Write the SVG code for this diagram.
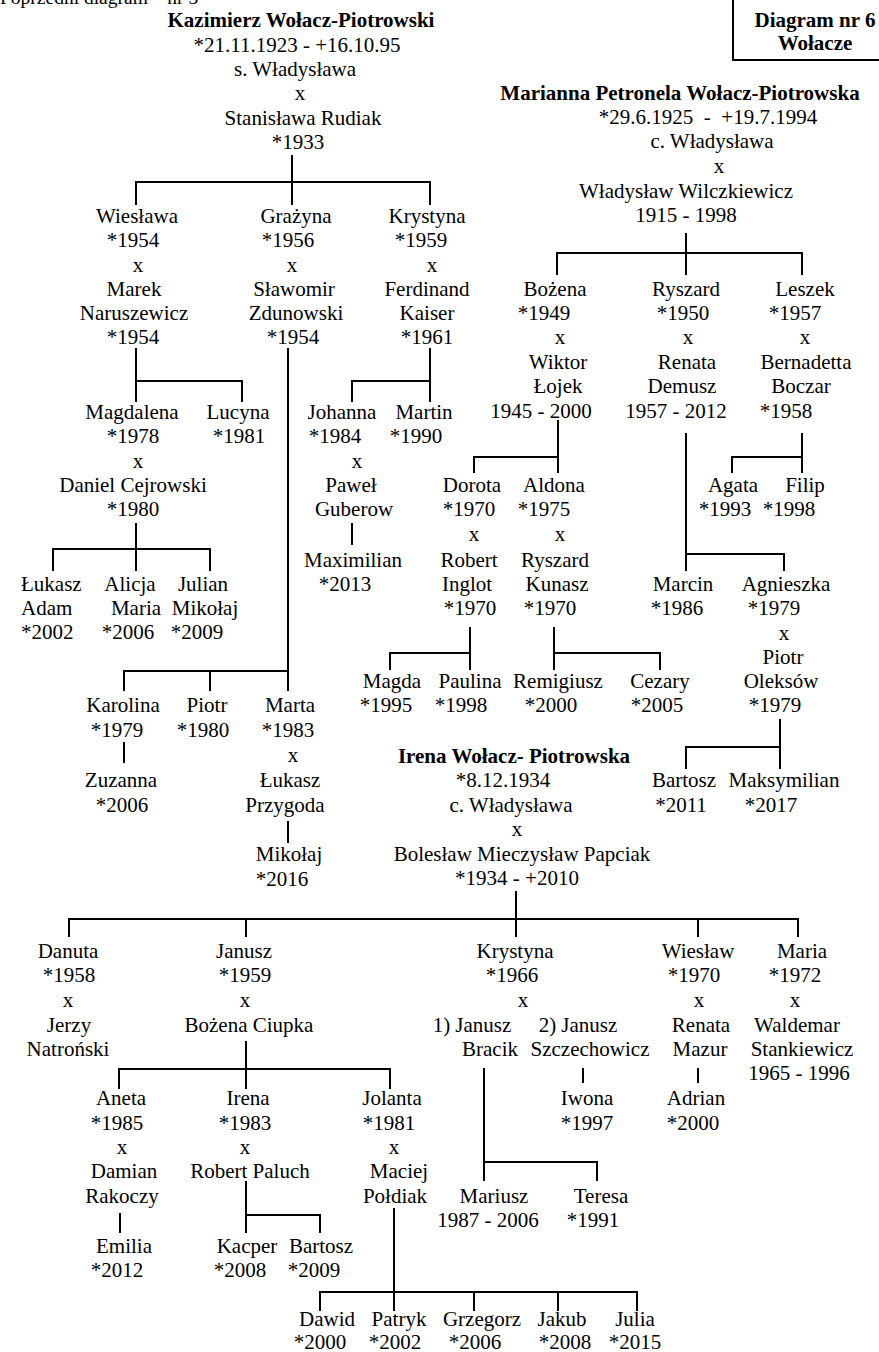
<svg xmlns="http://www.w3.org/2000/svg" width="879" height="1352" viewBox="0 0 879 1352">
<style>
text{font-family:"Liberation Serif","Times New Roman",serif;font-size:21px;fill:#000;text-anchor:middle}
.b{font-weight:bold}
.s{text-anchor:start}
.c path{stroke:#000;stroke-width:2;fill:none}
</style>
<rect width="879" height="1352" fill="#fff"/>
<g id="header">
<text class="s" x="0" y="4" style="font-size:19.5px">Poprzedni diagram – nr 5</text>
<path d="M733,-5 V60 H885" stroke="#000" stroke-width="2" fill="none"/>
<text class="b" x="815" y="27">Diagram nr 6</text>
<text class="b" x="815" y="50">Wołacze</text>
</g>
<g class="c" id="connectors">
<path d="M292,155 V205 M136,205 V182 H430 V205"/>
<path d="M686,233 V275 M557,275 V253 H802 V275"/>
<path d="M136,348 V402 M136,381 H242 V402"/>
<path d="M288,348 V691 M124,691 V671 H288 M210,671 V691"/>
<path d="M430,348 V402 M352,402 V381 H430"/>
<path d="M136,523 V571 M53,571 V549 H210 V571"/>
<path d="M352,523 V545"/>
<path d="M124,742 V763"/>
<path d="M288,821 V843"/>
<path d="M558,420 V473 M474,473 V457 H558"/>
<path d="M686,433 V571 M686,554 H784 V571"/>
<path d="M802,433 V473 M732,473 V457 H802"/>
<path d="M470,627 V670 M390,670 V653 H470"/>
<path d="M554,627 V670 M554,653 H660 V670"/>
<path d="M780,719 V769 M686,769 V747 H780"/>
<path d="M516,891 V937 M69,937 V919 H798 V937 M246,919 V937 M698,919 V937"/>
<path d="M246,1041 V1089 M119,1089 V1069 H390 V1089"/>
<path d="M120,1213 V1233"/>
<path d="M246,1181 V1233 M246,1215 H320 V1233"/>
<path d="M394,1208 V1311 M320,1311 V1292 H637 V1311 M474,1292 V1311 M558,1292 V1311"/>
<path d="M484,1068 V1181 M484,1162 H597 V1181"/>
<path d="M583,1068 V1083"/>
<path d="M698,1068 V1083"/>
</g>
<g id="n-kazimierz">
<text class="b" x="301" y="27">Kazimierz Wołacz-Piotrowski</text>
<text x="297" y="52">*21.11.1923 - +16.10.95</text>
<text x="295" y="76">s. Władysława</text>
<text x="300" y="100">x</text>
<text x="303" y="125">Stanisława Rudiak</text>
<text x="298" y="149">*1933</text>
</g>
<g id="n-marianna">
<text class="b" x="680" y="100">Marianna Petronela Wołacz-Piotrowska</text>
<text x="708" y="124" xml:space="preserve">*29.6.1925  -  +19.7.1994</text>
<text x="712" y="148">c. Władysława</text>
<text x="719" y="173">x</text>
<text x="686" y="198">Władysław Wilczkiewicz</text>
<text x="686" y="222">1915 - 1998</text>
</g>
<g id="n-wieslawa">
<text x="137" y="223">Wiesława</text>
<text x="133" y="247">*1954</text>
<text x="138" y="272">x</text>
<text x="134" y="296">Marek</text>
<text x="134" y="320">Naruszewicz</text>
<text x="133" y="344">*1954</text>
</g>
<g id="n-grazyna">
<text x="296" y="223">Grażyna</text>
<text x="288" y="247">*1956</text>
<text x="292" y="272">x</text>
<text x="294" y="296">Sławomir</text>
<text x="296" y="320">Zdunowski</text>
<text x="293" y="344">*1954</text>
</g>
<g id="n-krystyna-k">
<text x="427" y="223">Krystyna</text>
<text x="421" y="247">*1959</text>
<text x="432" y="272">x</text>
<text x="427" y="296">Ferdinand</text>
<text x="427" y="320">Kaiser</text>
<text x="427" y="344">*1961</text>
</g>
<g id="n-bozena">
<text x="555" y="296">Bożena</text>
<text x="544" y="320">*1949</text>
<text x="560" y="344">x</text>
<text x="558" y="369">Wiktor</text>
<text x="558" y="393">Łojek</text>
<text x="541" y="418">1945 - 2000</text>
</g>
<g id="n-ryszard">
<text x="686" y="296">Ryszard</text>
<text x="683" y="320">*1950</text>
<text x="688" y="344">x</text>
<text x="687" y="369">Renata</text>
<text x="682" y="393">Demusz</text>
<text x="676" y="418">1957 - 2012</text>
</g>
<g id="n-leszek">
<text x="805" y="296">Leszek</text>
<text x="795" y="320">*1957</text>
<text x="805" y="344">x</text>
<text x="806" y="369">Bernadetta</text>
<text x="801" y="393">Boczar</text>
<text x="786" y="418">*1958</text>
</g>
<g id="n-magdalena">
<text x="132" y="419">Magdalena</text>
<text x="133" y="443">*1978</text>
<text x="138" y="468">x</text>
<text x="133" y="492">Daniel Cejrowski</text>
<text x="133" y="516">*1980</text>
</g>
<g id="n-lucyna">
<text x="238" y="419">Lucyna</text>
<text x="239" y="443">*1981</text>
</g>
<g id="n-johanna">
<text x="342" y="419">Johanna</text>
<text x="335" y="443">*1984</text>
<text x="357" y="468">x</text>
<text x="351" y="492">Paweł</text>
<text x="354" y="516">Guberow</text>
</g>
<g id="n-martin">
<text x="424" y="419">Martin</text>
<text x="416" y="443">*1990</text>
</g>
<g id="n-maximilian">
<text x="353" y="567">Maximilian</text>
<text x="345" y="591">*2013</text>
</g>
<g id="n-lukasz-adam">
<text class="s" x="21" y="591">Łukasz</text>
<text class="s" x="21" y="615">Adam</text>
<text class="s" x="21" y="639">*2002</text>
</g>
<g id="n-alicja">
<text x="130" y="591">Alicja</text>
<text x="136" y="615">Maria</text>
<text x="128" y="639">*2006</text>
</g>
<g id="n-julian">
<text x="203" y="591">Julian</text>
<text x="205" y="615">Mikołaj</text>
<text x="197" y="639">*2009</text>
</g>
<g id="n-dorota">
<text x="472" y="492">Dorota</text>
<text x="469" y="516">*1970</text>
<text x="474" y="541">x</text>
<text x="469" y="567">Robert</text>
<text x="467" y="591">Inglot</text>
<text x="470" y="615">*1970</text>
</g>
<g id="n-aldona">
<text x="554" y="492">Aldona</text>
<text x="544" y="516">*1975</text>
<text x="560" y="541">x</text>
<text x="555" y="567">Ryszard</text>
<text x="557" y="591">Kunasz</text>
<text x="550" y="615">*1970</text>
</g>
<g id="n-agata">
<text x="733" y="492">Agata</text>
<text x="725" y="516">*1993</text>
</g>
<g id="n-filip">
<text x="805" y="492">Filip</text>
<text x="789" y="516">*1998</text>
</g>
<g id="n-marcin">
<text x="683" y="591">Marcin</text>
<text x="677" y="615">*1986</text>
</g>
<g id="n-agnieszka">
<text x="786" y="591">Agnieszka</text>
<text x="774" y="615">*1979</text>
<text x="784" y="640">x</text>
<text x="783" y="664">Piotr</text>
<text x="781" y="688">Oleksów</text>
<text x="775" y="712">*1979</text>
</g>
<g id="n-magda">
<text x="392" y="688">Magda</text>
<text x="386" y="712">*1995</text>
</g>
<g id="n-paulina">
<text x="470" y="688">Paulina</text>
<text x="461" y="712">*1998</text>
</g>
<g id="n-remigiusz">
<text x="558" y="688">Remigiusz</text>
<text x="551" y="712">*2000</text>
</g>
<g id="n-cezary">
<text x="660" y="688">Cezary</text>
<text x="657" y="712">*2005</text>
</g>
<g id="n-karolina">
<text x="123" y="712">Karolina</text>
<text x="117" y="737">*1979</text>
</g>
<g id="n-piotr">
<text x="207" y="712">Piotr</text>
<text x="203" y="737">*1980</text>
</g>
<g id="n-marta">
<text x="290" y="712">Marta</text>
<text x="288" y="737">*1983</text>
<text x="293" y="762">x</text>
<text x="290" y="787">Łukasz</text>
<text x="285" y="812">Przygoda</text>
</g>
<g id="n-zuzanna">
<text x="121" y="787">Zuzanna</text>
<text x="122" y="812">*2006</text>
</g>
<g id="n-mikolaj">
<text x="289" y="861">Mikołaj</text>
<text x="282" y="886">*2016</text>
</g>
<g id="n-bartosz-o">
<text x="684" y="787">Bartosz</text>
<text x="681" y="812">*2011</text>
</g>
<g id="n-maksymilian">
<text x="784" y="787">Maksymilian</text>
<text x="771" y="812">*2017</text>
</g>
<g id="n-irena">
<text class="b" x="514" y="763">Irena Wołacz- Piotrowska</text>
<text x="503" y="787">*8.12.1934</text>
<text x="511" y="812">c. Władysława</text>
<text x="517" y="836">x</text>
<text x="522" y="861">Bolesław Mieczysław Papciak</text>
<text x="517" y="885">*1934 - +2010</text>
</g>
<g id="n-danuta">
<text x="68" y="958">Danuta</text>
<text x="69" y="982">*1958</text>
<text x="68" y="1007">x</text>
<text x="69" y="1032">Jerzy</text>
<text x="68" y="1056">Natroński</text>
</g>
<g id="n-janusz">
<text x="244" y="958">Janusz</text>
<text x="245" y="982">*1959</text>
<text x="245" y="1007">x</text>
<text x="249" y="1032">Bożena Ciupka</text>
</g>
<g id="n-krystyna-i">
<text x="515" y="958">Krystyna</text>
<text x="512" y="982">*1966</text>
<text x="523" y="1007">x</text>
<text x="472" y="1032">1) Janusz</text>
<text x="490" y="1056">Bracik</text>
<text x="578" y="1032">2) Janusz</text>
<text x="590" y="1056">Szczechowicz</text>
</g>
<g id="n-wieslaw">
<text x="698" y="958">Wiesław</text>
<text x="694" y="982">*1970</text>
<text x="699" y="1007">x</text>
<text x="701" y="1032">Renata</text>
<text x="700" y="1056">Mazur</text>
</g>
<g id="n-maria">
<text x="802" y="958">Maria</text>
<text x="795" y="982">*1972</text>
<text x="795" y="1007">x</text>
<text x="797" y="1032">Waldemar</text>
<text x="802" y="1056">Stankiewicz</text>
<text x="799" y="1080">1965 - 1996</text>
</g>
<g id="n-aneta">
<text x="121" y="1105">Aneta</text>
<text x="117" y="1130">*1985</text>
<text x="122" y="1154">x</text>
<text x="124" y="1178">Damian</text>
<text x="122" y="1203">Rakoczy</text>
</g>
<g id="n-irena-j">
<text x="248" y="1105">Irena</text>
<text x="245" y="1130">*1983</text>
<text x="245" y="1154">x</text>
<text x="250" y="1178">Robert Paluch</text>
</g>
<g id="n-jolanta">
<text x="392" y="1105">Jolanta</text>
<text x="389" y="1130">*1981</text>
<text x="394" y="1154">x</text>
<text x="399" y="1178">Maciej</text>
<text x="395" y="1203">Połdiak</text>
</g>
<g id="n-iwona">
<text x="587" y="1105">Iwona</text>
<text x="587" y="1130">*1997</text>
</g>
<g id="n-adrian">
<text x="696" y="1105">Adrian</text>
<text x="693" y="1130">*2000</text>
</g>
<g id="n-mariusz">
<text x="494" y="1203">Mariusz</text>
<text x="488" y="1227">1987 - 2006</text>
</g>
<g id="n-teresa">
<text x="601" y="1203">Teresa</text>
<text x="593" y="1227">*1991</text>
</g>
<g id="n-emilia">
<text x="124" y="1253">Emilia</text>
<text x="117" y="1277">*2012</text>
</g>
<g id="n-kacper">
<text x="247" y="1253">Kacper</text>
<text x="240" y="1277">*2008</text>
</g>
<g id="n-bartosz-p">
<text x="321" y="1253">Bartosz</text>
<text x="314" y="1277">*2009</text>
</g>
<g id="n-dawid">
<text x="327" y="1326">Dawid</text>
<text x="320" y="1349">*2000</text>
</g>
<g id="n-patryk">
<text x="399" y="1326">Patryk</text>
<text x="395" y="1349">*2002</text>
</g>
<g id="n-grzegorz">
<text x="482" y="1326">Grzegorz</text>
<text x="475" y="1349">*2006</text>
</g>
<g id="n-jakub">
<text x="562" y="1326">Jakub</text>
<text x="565" y="1349">*2008</text>
</g>
<g id="n-julia">
<text x="635" y="1326">Julia</text>
<text x="635" y="1349">*2015</text>
</g>
</svg>
